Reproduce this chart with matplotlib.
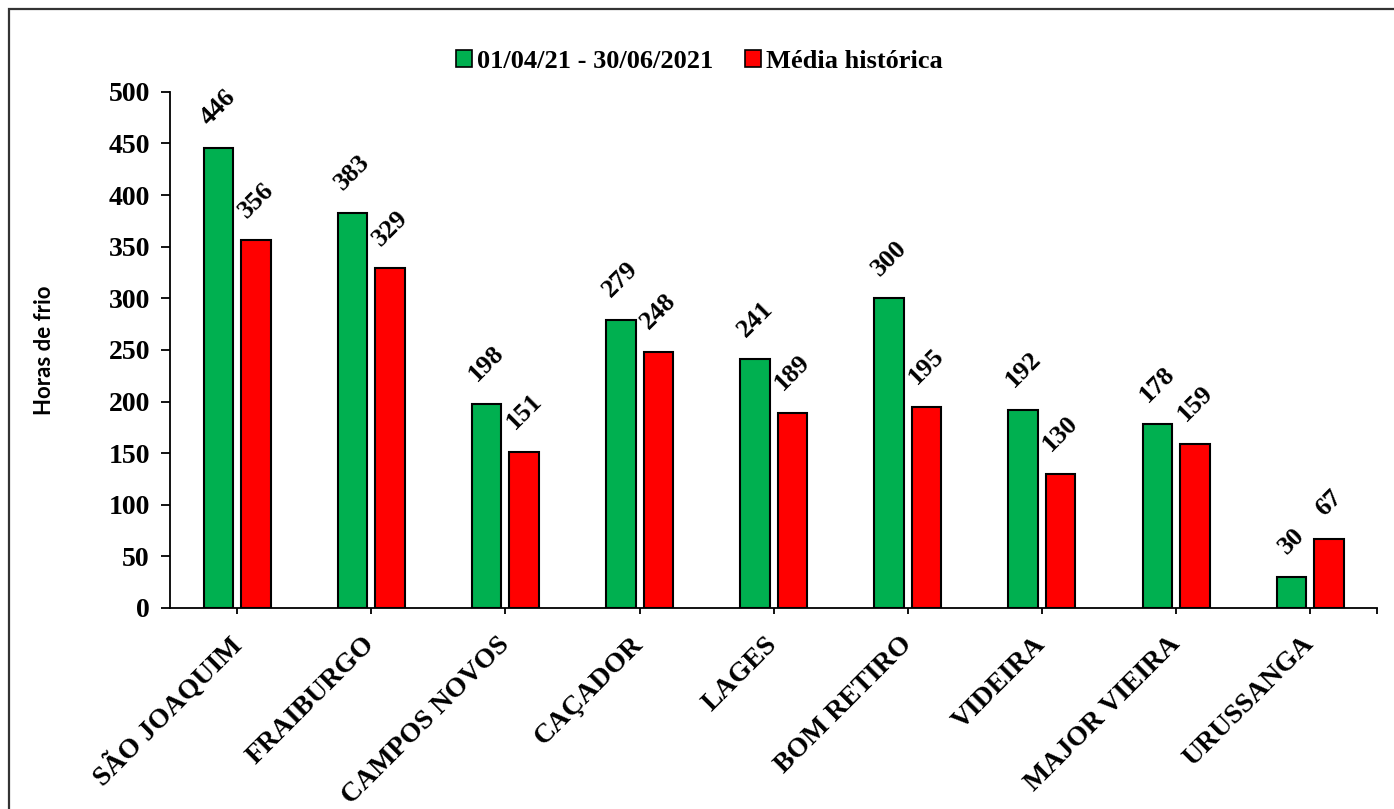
import matplotlib
matplotlib.use("Agg")
import matplotlib.pyplot as plt
from matplotlib.patches import Patch, Rectangle
import numpy as np

# Chill hours per station, current period vs. historical mean
stations = ["SÃO JOAQUIM", "FRAIBURGO", "CAMPOS NOVOS", "CAÇADOR", "LAGES",
            "BOM RETIRO", "VIDEIRA", "MAJOR VIEIRA", "URUSSANGA"]
periodo = [446, 383, 198, 279, 241, 300, 192, 178, 30]
media = [356, 329, 151, 248, 189, 195, 130, 159, 67]
series_labels = ["01/04/21 - 30/06/2021", "Média histórica"]
yticks = [0, 50, 100, 150, 200, 250, 300, 350, 400, 450, 500]

GREEN = "#00B050"
RED = "#FF0000"
SERIF = "Liberation Serif"

fig = plt.figure(figsize=(13.94, 8.09), dpi=100)
ax = fig.add_axes([0.122, 0.2485, 0.866, 0.638])

x = np.arange(len(stations))
width = 0.22
offset = 0.14

bars_p = ax.bar(x - offset, periodo, width, color=GREEN, edgecolor="black",
                linewidth=1.5, zorder=3)
bars_m = ax.bar(x + offset, media, width, color=RED, edgecolor="black",
                linewidth=1.5, zorder=3)

# value labels, rotated like the category names
for bars, vals in ((bars_p, periodo), (bars_m, media)):
    for b, v in zip(bars, vals):
        ax.annotate(str(v), (b.get_x() + b.get_width() / 2, v),
                    xytext=(0, 13), textcoords="offset points",
                    rotation=45, ha="center", va="bottom",
                    fontsize=19, fontweight="bold", family=SERIF)

ax.set_xlim(-0.5, len(stations) - 0.5)
ax.set_ylim(0, 500)
ax.set_yticks(yticks)
ax.set_yticklabels([str(t) for t in yticks], fontsize=20,
                   fontweight="bold", family=SERIF)
ax.set_xticks(x)
ax.set_xticklabels(stations, rotation=45, ha="right", va="center",
                   rotation_mode="anchor", fontsize=20, fontweight="bold",
                   family=SERIF)
ax.set_xticks([len(stations) - 0.5], minor=True)

ax.tick_params(axis="y", direction="out", length=6.5, width=1.3, pad=8)
ax.tick_params(axis="x", which="major", direction="out", length=4.5,
               width=1.3, pad=19)
ax.tick_params(axis="x", which="minor", direction="out", length=4.5,
               width=1.3)

for side in ("top", "right"):
    ax.spines[side].set_visible(False)
for side in ("left", "bottom"):
    ax.spines[side].set_linewidth(1.3)
    ax.spines[side].set_color("black")

ax.set_ylabel("Horas de frio", fontsize=16, fontweight="bold",
              family="Lato", labelpad=0)
ax.yaxis.set_label_coords(-0.095, 0.5)

handles = [Patch(facecolor=GREEN, edgecolor="black", linewidth=1.2),
           Patch(facecolor=RED, edgecolor="black", linewidth=1.2)]
fig.legend(handles, series_labels, loc="center", bbox_to_anchor=(0.502, 0.924),
           ncol=2, frameon=False, handlelength=0.6, handleheight=0.6,
           handletextpad=0.2, columnspacing=1.2,
           prop={"family": SERIF, "weight": "bold", "size": 19})

# chart area border
fig.add_artist(Rectangle((8.5 / 1394, -0.1), 1.2, 1.1 - 8.5 / 809,
                         transform=fig.transFigure, fill=False,
                         edgecolor="#333333", linewidth=1.6))

fig.savefig("out.png", dpi=100)
